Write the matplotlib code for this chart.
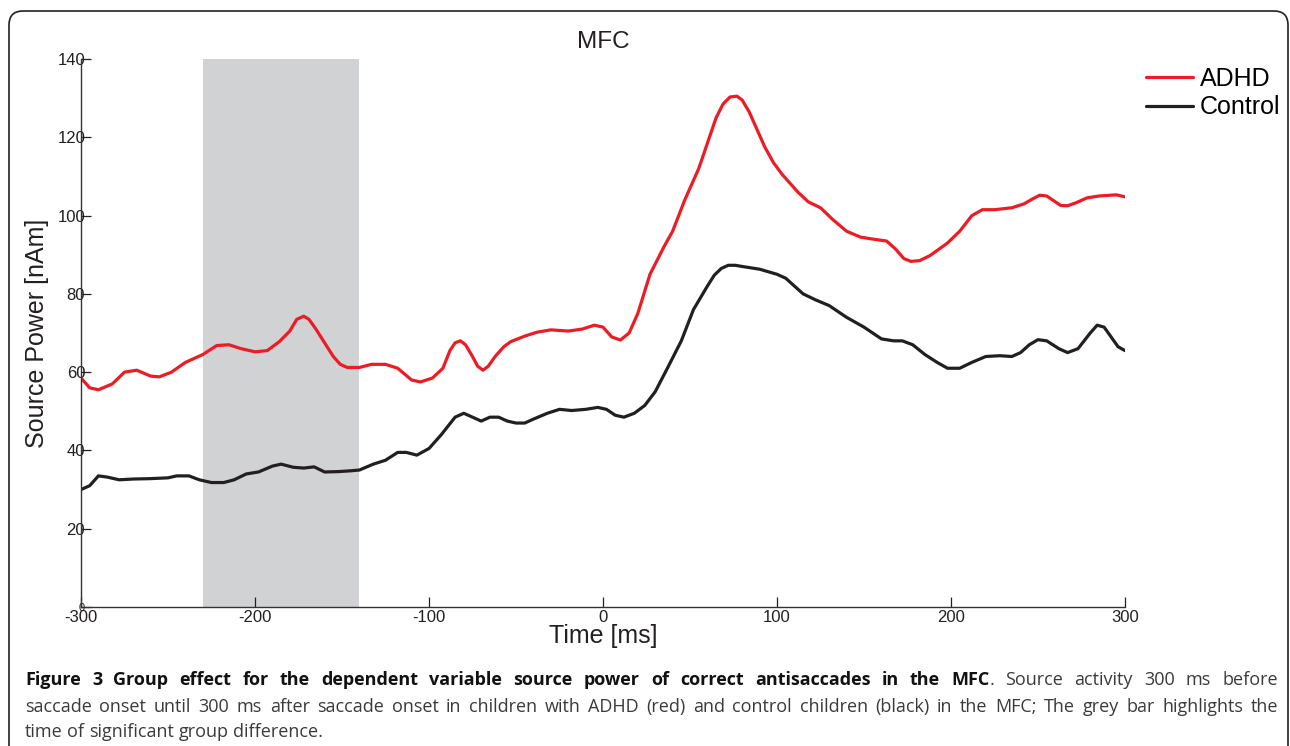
import matplotlib
matplotlib.use('Agg')
import matplotlib.pyplot as plt
import numpy as np
from matplotlib.patches import FancyBboxPatch
from matplotlib.transforms import IdentityTransform

# values
adhd_t = [-300, -295, -290, -282, -275, -268, -260, -255, -248, -240, -230, -222, -215,
          -208, -200, -193, -186, -180, -176, -172, -169, -165, -160, -155, -151, -147,
          -140, -133, -125, -118, -110, -105, -98, -92, -88, -85, -82, -79, -75, -72, -69,
          -66, -62, -57, -53, -45, -38, -30, -20, -12, -5, 0, 5, 10, 15, 20, 27, 35, 40,
          47, 55, 60, 65, 69, 73, 77, 80, 84, 88, 93, 98, 103, 112, 118, 125, 132, 140,
          148, 155, 163, 168, 173, 177, 182, 188, 198, 205, 212, 218, 225, 235, 242, 247,
          251, 255, 259, 263, 267, 272, 278, 285, 295, 300]
adhd_v = [58.5, 56, 55.5, 57, 60, 60.5, 59, 58.8, 60, 62.5, 64.5, 66.8, 67, 66, 65.2,
          65.5, 67.8, 70.5, 73.5, 74.3, 73.5, 71, 67.5, 64, 62, 61.2, 61.2, 62, 62, 61,
          58, 57.5, 58.5, 61, 65.5, 67.5, 68, 67, 64, 61.5, 60.5, 61.5, 64, 66.5, 67.8,
          69.2, 70.2, 70.8, 70.5, 71, 72, 71.5, 69, 68.2, 70, 75, 85, 92, 96, 104, 112,
          118.5, 125, 128.5, 130.3, 130.5, 129.5, 126.5, 122.5, 117.5, 113.5, 110.5, 106,
          103.5, 102, 99, 96, 94.5, 94, 93.5, 91.5, 89, 88.3, 88.5, 89.8, 93, 96, 100,
          101.5, 101.5, 102, 103, 104.3, 105.2, 105, 103.8, 102.6, 102.5, 103.3, 104.5,
          105, 105.3, 104.8]

ctrl_t = [-300, -295, -290, -285, -278, -270, -260, -250, -245, -238, -232, -225, -218,
          -212, -205, -198, -190, -185, -178, -172, -166, -160, -152, -145, -140, -132,
          -125, -118, -113, -107, -100, -93, -85, -80, -75, -70, -65, -60, -55, -50, -45,
          -40, -32, -25, -18, -10, -3, 2, 7, 12, 18, 24, 30, 37, 45, 52, 60, 64, 68, 72,
          76, 80, 90, 100, 105, 110, 115, 122, 130, 140, 150, 160, 167, 172, 178, 185, 192,
          198, 205, 212, 220, 228, 235, 240, 245, 250, 255, 262, 267, 273, 280, 284, 288,
          292, 296, 300]
ctrl_v = [30, 31, 33.5, 33.2, 32.5, 32.7, 32.8, 33, 33.5, 33.5, 32.5, 31.8, 31.8, 32.5,
          34, 34.5, 36, 36.5, 35.7, 35.5, 35.8, 34.5, 34.6, 34.8, 35, 36.5, 37.5, 39.5,
          39.5, 38.8, 40.5, 44, 48.5, 49.5, 48.5, 47.5, 48.5, 48.5, 47.5, 47, 47, 48,
          49.5, 50.5, 50.2, 50.5, 51, 50.5, 49, 48.5, 49.5, 51.5, 55, 61, 68, 76, 82,
          84.8, 86.5, 87.3, 87.3, 87, 86.3, 85, 84, 82, 80, 78.5, 77, 74, 71.5, 68.5, 68,
          68, 67, 64.5, 62.5, 61, 61, 62.5, 64, 64.2, 64, 65, 67, 68.3, 68, 66, 65, 66,
          70, 72, 71.5, 69, 66.5, 65.5]

sig_window = (-230, -140)
xticks = [-300, -200, -100, 0, 100, 200, 300]
yticks = [0, 20, 40, 60, 80, 100, 120, 140]

caption_lines = [
    [("Figure", True, False), ("3", True, False), ("Group", True, False), ("effect", True, False),
     ("for", True, False), ("the", True, False), ("dependent", True, False), ("variable", True, False),
     ("source", True, False), ("power", True, False), ("of", True, False), ("correct", True, False),
     ("antisaccades", True, False), ("in", True, False), ("the", True, False), ("MFC", True, False),
     (".", False, True), ("Source", False, False), ("activity", False, False), ("300", False, False),
     ("ms", False, False), ("before", False, False)],
    [(w, False, False) for w in "saccade onset until 300 ms after saccade onset in children with ADHD (red) and control children (black) in the MFC; The grey bar highlights the".split()],
    [(w, False, False) for w in "time of significant group difference.".split()],
]

fig = plt.figure(figsize=(12.9, 7.46), dpi=100)

# rounded frame around the figure
frame = FancyBboxPatch((9, -30), 1279, 746 - 11 + 30, boxstyle="round,pad=0,rounding_size=14",
                       transform=IdentityTransform(), fill=False, edgecolor='#231f20', linewidth=1.2)
fig.patches.append(frame)

ax = fig.add_axes([0.0628, 0.1863, 0.8093, 0.7346])
ax.axvspan(sig_window[0], sig_window[1], color='#d1d2d4', lw=0)
ax.plot(adhd_t, adhd_v, color='#ed1c24', lw=2.3, label='ADHD',
        solid_capstyle='round', solid_joinstyle='round')
ax.plot(ctrl_t, ctrl_v, color='#231f20', lw=2.3, label='Control',
        solid_capstyle='round', solid_joinstyle='round')

ax.set_xlim(-300, 300)
ax.set_ylim(0, 140)
ax.set_xticks(xticks)
ax.set_yticks(yticks)
ax.set_xticklabels([str(v) for v in xticks], family='Liberation Sans', fontsize=12, color='#231f20')
ax.set_yticklabels([str(v) for v in yticks], family='Liberation Sans', fontsize=12, color='#231f20')
ax.get_yticklabels()[0].set_fontsize(8)
ax.tick_params(axis='x', direction='in', length=7, width=0.9, pad=2.5, colors='#231f20')
ax.tick_params(axis='y', direction='in', length=7, width=0.9, pad=-3, colors='#231f20')
for s in ['top', 'right']:
    ax.spines[s].set_visible(False)
for s in ['left', 'bottom']:
    ax.spines[s].set_color('#333333')
    ax.spines[s].set_linewidth(1.0)
ax.set_xlabel('Time [ms]', family='Liberation Sans', fontsize=18, color='#231f20', labelpad=-1)
ax.set_ylabel('Source Power [nAm]', family='Liberation Sans', fontsize=18, color='#231f20', labelpad=6)
ax.set_title('MFC', family='Liberation Sans', fontsize=17.5, color='#231f20', pad=8)

fig.legend(loc='upper left', bbox_to_anchor=(0.881, 0.924), frameon=False, handlelength=1.88,
           handletextpad=0.24, labelspacing=0.19, borderaxespad=0,
           prop={'family': 'Liberation Sans', 'size': 18})

# caption, justified word by word
renderer = fig.canvas.get_renderer()
cap_x0, cap_x1 = 25, 1278
baselines = [61, 34, 9]


def make_line(tokens, size, y):
    texts = []
    for word, bold, glue in tokens:
        t = fig.text(0, y, word, transform=IdentityTransform(), fontsize=size,
                     family='Open Sans', fontweight='bold' if bold else 'normal',
                     color='#111111' if bold else '#3a3a3a', va='baseline', ha='left')
        texts.append(t)
    widths = [t.get_window_extent(renderer).width for t in texts]
    return texts, widths


size = 13.0
space = 0.26 * size * 100 / 72
for _ in range(3):
    worst = 0
    for tokens in caption_lines[:2]:
        texts, widths = make_line(tokens, size, 0)
        ngaps = sum(1 for w in tokens[1:] if not w[2])
        worst = max(worst, sum(widths) + ngaps * space)
        for t in texts:
            t.remove()
    if worst > (cap_x1 - cap_x0) * 0.985:
        size = size * (cap_x1 - cap_x0) * 0.985 / worst
        space = 0.26 * size * 100 / 72
    else:
        break

for i, tokens in enumerate(caption_lines):
    texts, widths = make_line(tokens, size, baselines[i])
    ngaps = sum(1 for w in tokens[1:] if not w[2])
    if i < 2:
        gap = (cap_x1 - cap_x0 - sum(widths)) / ngaps
    else:
        gap = space
    x = cap_x0
    for j, (t, w) in enumerate(zip(texts, widths)):
        if j > 0 and not tokens[j][2]:
            x += gap
        t.set_x(x)
        x += w

fig.savefig('out.png', dpi=100)
